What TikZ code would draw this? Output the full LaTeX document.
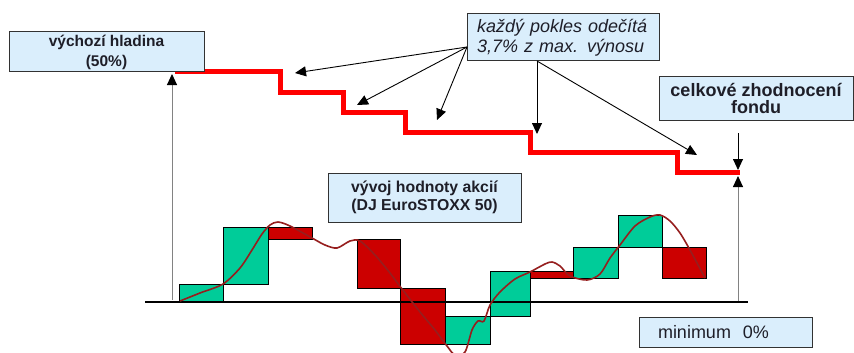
\documentclass[tikz,border=0pt]{standalone}
\usepackage{fontspec}
\setmainfont{Liberation Sans}
\usetikzlibrary{arrows.meta}
\definecolor{boxblue}{RGB}{218,238,252}
\definecolor{boxline}{RGB}{50,50,50}
\definecolor{txt}{RGB}{30,30,40}
\definecolor{bargreen}{RGB}{0,204,153}
\definecolor{barred}{RGB}{204,0,0}
\definecolor{curvebrown}{RGB}{150,30,30}
\definecolor{axisgray}{RGB}{130,130,130}
\begin{document}
\begin{tikzpicture}[x=1pt,y=-1pt,
  infobox/.style={draw=boxline, fill=boxblue, line width=1pt, inner sep=0pt, text=txt},
  ptr/.style={draw=black, line width=0.9pt, -{Triangle[length=11pt,width=10pt]}},
  gptr/.style={draw=axisgray, line width=0.9pt, -{Triangle[length=11pt,width=10pt,color=black]}},
  gbar/.style={draw=black, fill=bargreen, line width=0.8pt},
  rbar/.style={draw=black, fill=barred, line width=0.8pt}]
\useasboundingbox (0,0) rectangle (854,353);
\fill[white] (0,0) rectangle (854,353);

% bars
\draw[gbar] (179,284) rectangle (223,302);
\draw[gbar] (223,227) rectangle (268,284);
\draw[rbar] (268,227) rectangle (312,239);
\draw[rbar] (357,239) rectangle (400,288);
\draw[rbar] (400,288) rectangle (445,344);
\draw[gbar] (445,316) rectangle (490,344);
\draw[gbar] (490,271) rectangle (530,316);
\draw[rbar] (530,271) rectangle (573,278);
\draw[gbar] (573,247) rectangle (618,278);
\draw[gbar] (618,215) rectangle (662,247);
\draw[rbar] (662,247) rectangle (706,278);

% axis
\draw[line width=2.5pt] (145,302) -- (748,302);

% share value curve
\draw[curvebrown, line width=1.6pt] plot[smooth, tension=0.5] coordinates {
 (180,301) (200,293) (223,284) (240,268) (252,250) (262,234) (270,225) (278,222)
 (290,226) (312,238) (325,245) (337,248) (350,241) (360,241) (375,255) (390,273)
 (402,289) (420,312) (435,330) (447,346) (455,355) (465,352) (472,330) (478,321)
 (484,321) (490,305) (500,292) (515,279) (530,272) (545,264) (552,262) (560,266)
 (570,276) (587,280) (600,274) (610,258) (620,245) (635,226) (650,217) (660,215)
 (670,221) (680,233) (690,250) (705,278)};

% red staircase
\draw[red, line width=5pt] (175,72) -| (280,92) -| (343,112) -| (405,132) -| (530,152) -| (677,172) -- (740,172);

% boxes
\node[infobox, minimum width=195pt, minimum height=40pt, align=center,
      font={\fontsize{15.5}{20}\selectfont\bfseries}] (start) at (106.5,52) {výchozí hladina\\(50\%)};
\node[infobox, text width=172pt, inner xsep=10pt, minimum height=47pt, align=left,
      font={\fontsize{18}{20}\selectfont\itshape}] (kazdy) at (563,37.5) {každý pokles odečítá\\3,7\% z max. výnosu};
\node[infobox, minimum width=194pt, minimum height=43pt, align=center,
      font={\fontsize{18}{16.5}\selectfont\bfseries}] (celk) at (756,98.5) {celkové zhodnocení\\fondu};
\node[infobox, minimum width=193pt, minimum height=49pt, align=center,
      font={\fontsize{15.8}{18}\selectfont\bfseries}] (vyvoj) at (424.5,197.5) {vývoj hodnoty akcií\\(DJ EuroSTOXX 50)};
\node[infobox, text width=135pt, inner xsep=19pt, minimum height=30pt, align=left,
      font={\fontsize{18}{20}\selectfont}] (minimum) at (725.5,332) {minimum\ \ 0\%};

% connector points
\coordinate (ksrc) at (467,47);
\coordinate (kbot) at (537,61);
\coordinate (t1) at (295,73);
\coordinate (t2) at (357,105);
\coordinate (t3) at (437,120);
\coordinate (t4) at (537,134);
\coordinate (t5) at (697,155);
\coordinate (cbot) at (738,133);
\coordinate (cend) at (738,170);
\coordinate (lbase) at (172,300);
\coordinate (ltop) at (172,74);
\coordinate (rbase) at (738,301);
\coordinate (rtop) at (738,176);

\draw[ptr] (ksrc) -- (t1);
\draw[ptr] (ksrc) -- (t2);
\draw[ptr] (ksrc) -- (t3);
\draw[ptr] (kbot) -- (t4);
\draw[ptr] (kbot) -- (t5);
\draw[ptr] (cbot) -- (cend);
\draw[gptr] (lbase) -- (ltop);
\draw[gptr] (rbase) -- (rtop);
\end{tikzpicture}
\end{document}
